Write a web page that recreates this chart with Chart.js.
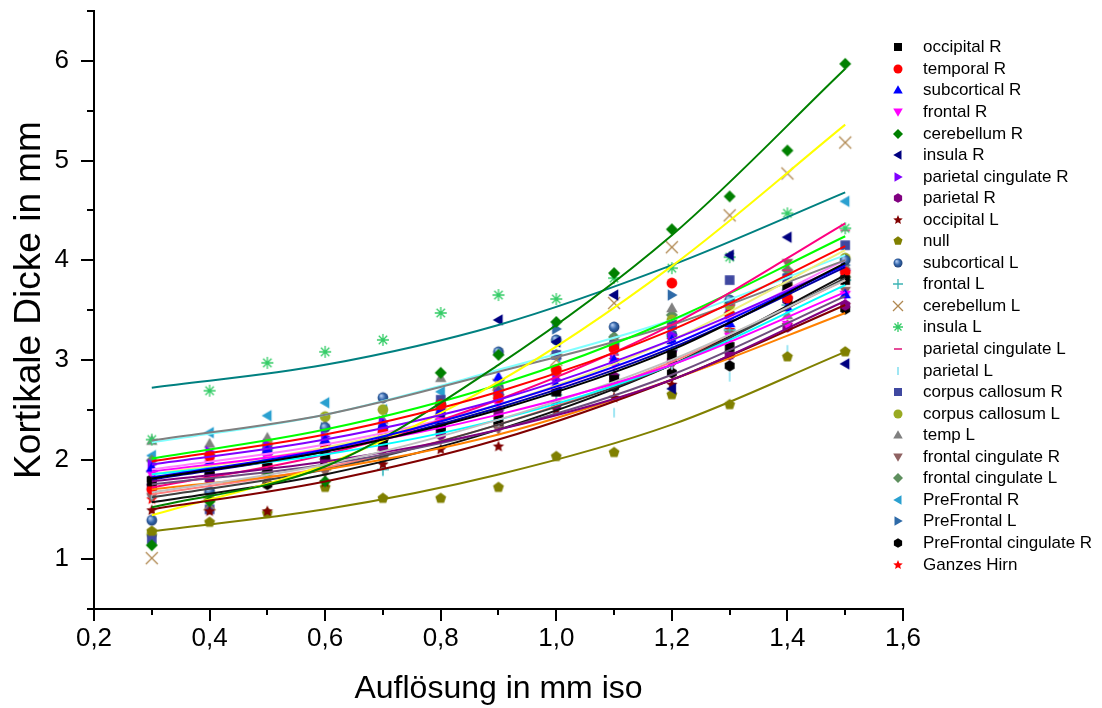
<!DOCTYPE html>
<html>
<head>
<meta charset="utf-8">
<script src="https://cdn.jsdelivr.net/npm/chart.js@4/dist/chart.umd.min.js"></script>
<style>
  html, body { margin: 0; padding: 0; background: #fff; }
  #wrap { position: relative; width: 1102px; height: 708px; }
  #legend { position: absolute; left: 0; top: 0; font-family: Arial, "Liberation Sans", sans-serif; font-size: 17px; color: #000; }
  #legend .row { position: absolute; left: 888px; height: 22px; line-height: 22px; white-space: nowrap; }
  #legend canvas { position: absolute; left: 3px; top: 4px; }
  #legend span { position: absolute; left: 35px; top: 0; }
</style>
</head>
<body>
<div id="wrap">
  <canvas id="thickness" width="1102" height="708"></canvas>
  <div id="legend"></div>
</div>
<script>
// Resolution steps (mm iso) and y/x tick labels
const resolution = [0.3, 0.4, 0.5, 0.6, 0.7, 0.8, 0.9, 1.0, 1.1, 1.2, 1.3, 1.4, 1.5];
const xTicks = [0.2, 0.4, 0.6, 0.8, 1.0, 1.2, 1.4, 1.6];
const yTicks = [1, 2, 3, 4, 5, 6];
// where the fitted curves are sampled
const fitAt = [0.3, 0.6, 0.9, 1.2, 1.5];

// measured cortical thickness per region (mm)
const occipitalR    = [1.78, 1.85, 1.92, 2.05, 2.18, 2.32, 2.40, 2.68, 2.80, 3.05, 3.13, 3.73, 3.80];
const temporalR     = [1.70, 2.03, 1.93, 2.10, 2.27, 2.55, 2.62, 2.90, 3.11, 3.77, 3.45, 3.62, 3.88];
const subcorticalR  = [1.92, 1.98, 2.10, 2.20, 2.35, 2.50, 2.83, 2.75, 3.00, 3.20, 3.37, 3.53, 3.66];
const frontalR      = [1.85, 1.95, 2.02, 2.12, 2.25, 2.38, 2.55, 2.70, 2.95, 3.05, 3.23, 3.35, 3.65];
const cerebellumR   = [1.14, 1.58, 1.87, 1.78, 2.20, 2.87, 3.05, 3.38, 3.87, 4.31, 4.64, 5.10, 5.97];
const insulaR       = [1.75, 1.85, 1.95, 2.10, 2.20, 2.45, 3.40, 3.18, 3.65, 2.71, 4.05, 4.23, 2.96];
const parCingR      = [1.95, 2.08, 2.15, 2.23, 2.38, 2.50, 2.65, 2.80, 3.00, 3.25, 3.45, 3.62, 3.90];
const parietalR     = [1.72, 1.80, 1.90, 2.00, 2.12, 2.25, 2.47, 2.55, 2.83, 2.99, 3.05, 3.33, 3.55];
const occipitalL    = [1.49, 1.48, 1.48, 1.77, 1.95, 2.10, 2.13, 2.50, 2.62, 2.75, 3.05, 3.35, 3.55];
const nullRegion    = [1.28, 1.37, 1.46, 1.72, 1.61, 1.61, 1.72, 2.03, 2.07, 2.65, 2.55, 3.03, 3.08];
const subcorticalL  = [1.39, 1.68, 2.10, 2.32, 2.62, 2.55, 3.08, 3.20, 3.33, 3.25, 3.60, 3.70, 4.00];
const frontalL      = [1.88, 1.92, 2.00, 2.10, 1.90, 2.35, 2.50, 2.65, 2.85, 3.10, 3.30, 3.55, 3.80];
const cerebellumL   = [1.01, 1.55, 1.80, 1.95, 2.15, 2.45, 2.75, 3.00, 3.57, 4.13, 4.45, 4.87, 5.18];
const insulaL       = [2.20, 2.69, 2.97, 3.08, 3.20, 3.47, 3.65, 3.61, 3.82, 3.92, 4.03, 4.47, 4.32];
const parCingL      = [1.75, 1.90, 2.05, 2.15, 2.30, 2.45, 2.60, 2.80, 3.05, 3.35, 3.55, 3.90, 4.30];
const parietalL     = [1.65, 1.75, 1.85, 1.95, 1.88, 2.20, 2.38, 2.60, 2.47, 2.95, 2.83, 3.10, 3.60];
const corpusCallR   = [1.20, 1.50, 1.90, 2.10, 2.30, 2.60, 2.70, 3.05, 3.15, 3.35, 3.80, 3.82, 4.15];
const corpusCallL   = [1.25, 1.60, 2.15, 2.43, 2.50, 2.55, 2.70, 2.90, 3.15, 3.40, 3.55, 3.75, 4.02];
const tempL         = [2.19, 2.16, 2.22, 2.35, 2.40, 2.82, 2.75, 3.05, 3.20, 3.52, 3.60, 3.45, 3.95];
const frontCingR    = [1.62, 1.63, 1.80, 1.87, 1.98, 2.22, 2.30, 2.53, 2.75, 2.95, 3.25, 3.97, 3.69];
const frontCingL    = [1.99, 2.05, 1.87, 2.15, 2.03, 2.40, 2.65, 3.05, 3.23, 3.45, 3.47, 3.90, 3.83];
const preFrontalR   = [2.04, 2.27, 2.44, 2.57, 2.50, 2.68, 2.75, 3.03, 3.10, 3.23, 3.45, 3.85, 4.59];
const preFrontalL   = [1.68, 1.90, 2.05, 2.32, 2.30, 2.50, 2.65, 3.31, 3.20, 3.65, 3.55, 3.80, 3.95];
const preFrontCingR = [1.80, 1.85, 1.75, 1.97, 2.24, 2.32, 2.35, 2.70, 2.73, 2.87, 2.94, 3.60, 3.51];
const wholeBrain    = [1.60, 1.80, 1.90, 1.77, 2.10, 2.50, 2.60, 2.85, 3.00, 3.20, 3.30, 3.62, 3.88];

// fitted curves, sampled at fitAt
const occipitalRFit    = [1.81, 2.08, 2.50, 3.10, 3.97];
const temporalRFit     = [1.98, 2.25, 2.68, 3.30, 4.14];
const subcorticalRFit  = [1.82, 2.10, 2.55, 3.15, 3.95];
const frontalRFit      = [1.88, 2.10, 2.45, 2.95, 3.68];
const cerebellumRFit   = [1.52, 1.93, 2.95, 4.25, 5.92];
const insulaRFit       = [1.67, 1.95, 2.40, 3.00, 3.80];
const parCingRFit      = [1.95, 2.20, 2.60, 3.20, 3.95];
const parietalRFit     = [1.78, 1.98, 2.30, 2.80, 3.59];
const occipitalLFit    = [1.50, 1.78, 2.20, 2.80, 3.55];
const nullRegionFit    = [1.28, 1.50, 1.85, 2.35, 3.08];
const subcorticalLFit  = [1.75, 1.95, 2.30, 2.85, 3.64];
const frontalLFit      = [1.85, 2.05, 2.40, 2.95, 3.75];
const cerebellumLFit   = [1.44, 1.95, 2.78, 3.94, 5.36];
const insulaLFit       = [2.72, 2.95, 3.35, 3.95, 4.68];
const parCingLFit      = [1.72, 2.05, 2.60, 3.35, 4.37];
const parietalLFit     = [1.70, 1.90, 2.25, 2.80, 3.47];
const corpusCallRFit   = [1.85, 2.12, 2.55, 3.20, 4.10];
const corpusCallLFit   = [2.01, 2.30, 2.75, 3.40, 4.24];
const tempLFit         = [2.19, 2.45, 2.88, 3.35, 4.00];
const frontCingRFit    = [1.90, 2.15, 2.55, 3.15, 4.00];
const frontCingLFit    = [1.62, 1.90, 2.35, 2.95, 3.82];
const preFrontalRFit   = [2.17, 2.45, 2.90, 3.40, 4.05];
const preFrontalLFit   = [1.80, 2.08, 2.52, 3.12, 3.93];
const preFrontCingRFit = [1.57, 1.85, 2.30, 2.95, 3.85];
const wholeBrainFit    = [1.65, 1.92, 2.35, 2.98, 3.80];

const regionNames = ['occipital R', 'temporal R', 'subcortical R', 'frontal R', 'cerebellum R', 'insula R',
  'parietal cingulate R', 'parietal R', 'occipital L', 'null', 'subcortical L', 'frontal L', 'cerebellum L',
  'insula L', 'parietal cingulate L', 'parietal L', 'corpus callosum R', 'corpus callosum L', 'temp L',
  'frontal cingulate R', 'frontal cingulate L', 'PreFrontal R', 'PreFrontal L', 'PreFrontal cingulate R', 'Ganzes Hirn'];
const regionValues = [occipitalR, temporalR, subcorticalR, frontalR, cerebellumR, insulaR, parCingR, parietalR,
  occipitalL, nullRegion, subcorticalL, frontalL, cerebellumL, insulaL, parCingL, parietalL, corpusCallR,
  corpusCallL, tempL, frontCingR, frontCingL, preFrontalR, preFrontalL, preFrontCingR, wholeBrain];
const regionFits = [occipitalRFit, temporalRFit, subcorticalRFit, frontalRFit, cerebellumRFit, insulaRFit,
  parCingRFit, parietalRFit, occipitalLFit, nullRegionFit, subcorticalLFit, frontalLFit, cerebellumLFit,
  insulaLFit, parCingLFit, parietalLFit, corpusCallRFit, corpusCallLFit, tempLFit, frontCingRFit,
  frontCingLFit, preFrontalRFit, preFrontalLFit, preFrontCingRFit, wholeBrainFit];

// marker style per region
const markerShapes = ['square', 'circle', 'triUp', 'triDown', 'diamond', 'triLeft', 'triRight', 'hexagon',
  'star', 'pentagon', 'ball', 'plus', 'cross', 'asterisk', 'dash', 'bar', 'square', 'circle', 'triUp',
  'triDown', 'diamond', 'triLeft', 'triRight', 'hexagon', 'star'];
const markerColors = ['#000000', '#ff0000', '#0000ff', '#ff00ff', '#008000', '#000080', '#8000ff', '#800080',
  '#800000', '#808000', '#3366aa', '#3cb4b4', '#b08850', '#33cc66', '#e0207f', '#88e0f0', '#3f48a0',
  '#99aa22', '#808080', '#8f6262', '#5e8f5e', '#2aa0d0', '#2e6aa8', '#000000', '#ff0000'];
const fitColors = ['#000000', '#ff0000', '#0000ff', '#ff00ff', '#008000', '#c0c0c0', '#8000ff', '#800080',
  '#800000', '#808000', '#6e4e7e', '#00ffff', '#ffff00', '#008080', '#ff0080', '#ff8000', '#f0f080',
  '#00ff00', '#808080', '#ff80ff', '#404040', '#80ffff', '#0000a0', '#101010', '#ff8080'];

function makeMarker(shape, color, size) {
  const d = size + 4;
  const c = document.createElement('canvas');
  c.width = d; c.height = d;
  const g = c.getContext('2d');
  const r = size / 2;
  g.translate(d / 2, d / 2);
  g.fillStyle = color;
  g.strokeStyle = color;
  g.lineWidth = 1.3;
  const poly = (n, rad, start) => {
    g.beginPath();
    for (let i = 0; i < n; i++) {
      const a = start + i * 2 * Math.PI / n;
      g.lineTo(rad * Math.cos(a), rad * Math.sin(a));
    }
    g.closePath();
    g.fill();
  };
  const tri = (rot) => { g.save(); g.rotate(rot); g.translate(0, r * 0.15); poly(3, r * 1.1, -Math.PI / 2); g.restore(); };
  switch (shape) {
    case 'square': g.fillRect(-r * 0.8, -r * 0.8, r * 1.6, r * 1.6); break;
    case 'circle': g.beginPath(); g.arc(0, 0, r * 0.9, 0, 2 * Math.PI); g.fill(); break;
    case 'triUp': tri(0); break;
    case 'triDown': tri(Math.PI); break;
    case 'triLeft': tri(-Math.PI / 2); break;
    case 'triRight': tri(Math.PI / 2); break;
    case 'diamond': poly(4, r, -Math.PI / 2); break;
    case 'hexagon': poly(6, r * 0.95, -Math.PI / 2); break;
    case 'pentagon': poly(5, r * 0.95, -Math.PI / 2); break;
    case 'star': {
      g.beginPath();
      for (let i = 0; i < 10; i++) {
        const a = -Math.PI / 2 + i * Math.PI / 5;
        const rr = i % 2 ? r * 0.45 : r;
        g.lineTo(rr * Math.cos(a), rr * Math.sin(a));
      }
      g.closePath(); g.fill(); break;
    }
    case 'ball': {
      const grad = g.createRadialGradient(-r * 0.3, -r * 0.35, r * 0.1, 0, 0, r);
      grad.addColorStop(0, '#a8c4ee');
      grad.addColorStop(0.5, color);
      grad.addColorStop(1, '#1c3a6e');
      g.fillStyle = grad;
      g.beginPath(); g.arc(0, 0, r * 0.9, 0, 2 * Math.PI); g.fill(); break;
    }
    case 'plus':
      g.beginPath(); g.moveTo(-r, 0); g.lineTo(r, 0); g.moveTo(0, -r); g.lineTo(0, r); g.stroke(); break;
    case 'cross':
      g.beginPath(); g.moveTo(-r, -r); g.lineTo(r, r); g.moveTo(r, -r); g.lineTo(-r, r); g.stroke(); break;
    case 'asterisk':
      g.beginPath();
      g.moveTo(-r, 0); g.lineTo(r, 0); g.moveTo(0, -r); g.lineTo(0, r);
      g.moveTo(-r * 0.7, -r * 0.7); g.lineTo(r * 0.7, r * 0.7); g.moveTo(r * 0.7, -r * 0.7); g.lineTo(-r * 0.7, r * 0.7);
      g.stroke(); break;
    case 'dash':
      g.lineWidth = 1.6; g.beginPath(); g.moveTo(-r * 0.8, 0); g.lineTo(r * 0.8, 0); g.stroke(); break;
    case 'bar':
      g.lineWidth = 1.6; g.beginPath(); g.moveTo(0, -r * 0.8); g.lineTo(0, r * 0.8); g.stroke(); break;
  }
  return c;
}

const datasets = [];
regionNames.forEach((name, i) => {
  datasets.push({
    label: name + ' fit',
    data: fitAt.map((x, k) => ({ x: x, y: regionFits[i][k] })),
    showLine: true,
    borderColor: fitColors[i],
    borderWidth: 2,
    pointRadius: 0,
    cubicInterpolationMode: 'monotone',
    order: 1
  });
});
regionNames.forEach((name, i) => {
  datasets.push({
    label: name,
    data: resolution.map((x, k) => ({ x: x, y: regionValues[i][k] })),
    showLine: false,
    pointStyle: makeMarker(markerShapes[i], markerColors[i], 12),
    pointRadius: 6,
    order: 2
  });
});

const fontFamily = 'Arial, "Liberation Sans", sans-serif';

// axis ticks: long majors and short minors, both pointing outward; plus the y title
const axisTicks = {
  id: 'axisTicks',
  afterDraw(chart) {
    const ctx = chart.ctx;
    const xs = chart.scales.x, ys = chart.scales.y;
    const bottom = chart.chartArea.bottom, left = chart.chartArea.left;
    ctx.save();
    ctx.strokeStyle = '#000';
    ctx.lineWidth = 2;
    const seg = (x1, y1, x2, y2) => { ctx.beginPath(); ctx.moveTo(x1, y1); ctx.lineTo(x2, y2); ctx.stroke(); };
    xTicks.forEach((v, i) => {
      const px = Math.round(xs.getPixelForValue(v));
      seg(px, bottom, px, bottom + 12);
      if (i < xTicks.length - 1) {
        const m = Math.round(xs.getPixelForValue((v + xTicks[i + 1]) / 2));
        seg(m, bottom, m, bottom + 6);
      }
    });
    const yMinor = [ys.min].concat(yTicks.map(v => v + 0.5));
    yTicks.forEach(v => {
      const py = Math.round(ys.getPixelForValue(v));
      seg(left, py, left - 13, py);
    });
    yMinor.forEach(v => {
      const py = Math.round(ys.getPixelForValue(v));
      seg(left, py, left - 7, py);
    });
    // rotated y axis title
    ctx.translate(30, 300);
    ctx.rotate(-Math.PI / 2);
    ctx.fillStyle = '#000';
    ctx.font = '37px ' + fontFamily;
    ctx.textAlign = 'center';
    ctx.textBaseline = 'middle';
    ctx.fillText('Kortikale Dicke in mm', 0, 0);
    ctx.restore();
  }
};

const tickFont = { family: fontFamily, size: 26 };
const titleFont = { family: fontFamily, size: 32 };

new Chart(document.getElementById('thickness'), {
  type: 'scatter',
  data: { datasets: datasets },
  options: {
    responsive: false,
    animation: false,
    layout: { padding: { left: 0, top: 11, right: 199, bottom: 0 } },
    plugins: { legend: { display: false }, tooltip: { enabled: false } },
    scales: {
      x: {
        type: 'linear', min: 0.2, max: 1.6,
        afterBuildTicks: s => { s.ticks = xTicks.map(v => ({ value: v })); },
        afterFit: s => { s.height = 99; s.paddingLeft = 0; s.paddingRight = 0; },
        grid: { display: false },
        border: { display: true, color: '#000', width: 2 },
        ticks: { color: '#000', font: tickFont, padding: 6, maxRotation: 0,
          callback: v => v.toFixed(1).replace('.', ',') },
        title: { display: true, text: 'Auflösung in mm iso', color: '#000', font: titleFont, padding: { top: 0, bottom: 0 } }
      },
      y: {
        type: 'linear', min: 0.5, max: 6.5,
        afterBuildTicks: s => { s.ticks = yTicks.map(v => ({ value: v })); },
        afterFit: s => { s.width = 94; s.paddingTop = 0; s.paddingBottom = 0; },
        grid: { display: false },
        border: { display: true, color: '#000', width: 2 },
        ticks: { color: '#000', font: tickFont, padding: 17, callback: v => String(v) },
        title: { display: false }
      }
    }
  },
  plugins: [axisTicks]
});

// legend column built from the same region list
const legend = document.getElementById('legend');
regionNames.forEach((name, i) => {
  const row = document.createElement('div');
  row.className = 'row';
  row.style.top = (36.3 + i * 21.55) + 'px';
  const mk = makeMarker(markerShapes[i], markerColors[i], 10);
  const label = document.createElement('span');
  label.textContent = name;
  row.appendChild(mk);
  row.appendChild(label);
  legend.appendChild(row);
});
</script>
</body>
</html>
